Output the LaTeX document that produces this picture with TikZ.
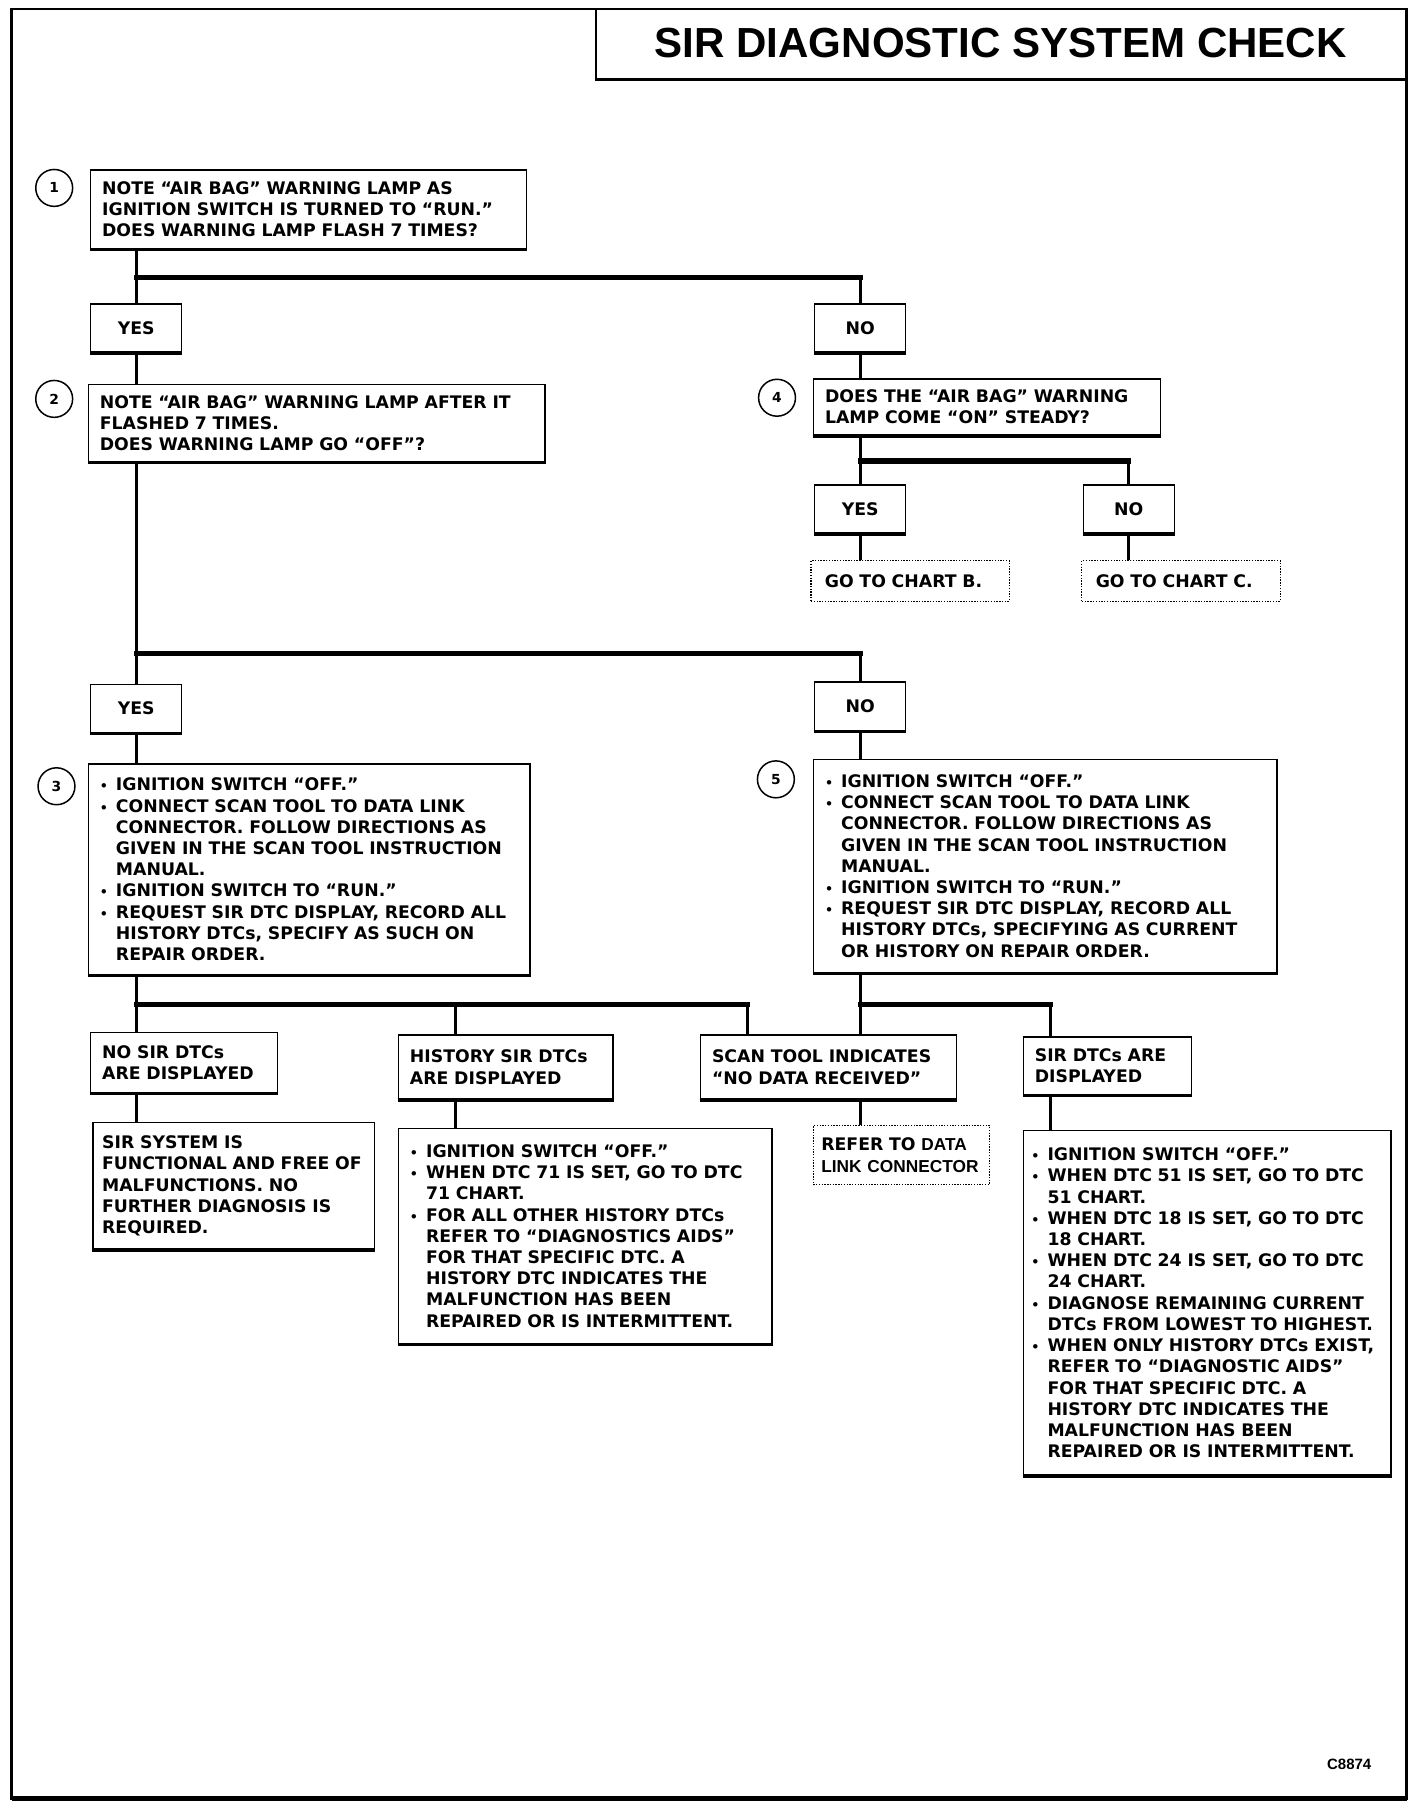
\documentclass[tikz,border=0pt]{standalone}
\usepackage{fontspec}
\setmainfont{DejaVu Sans}
\newfontfamily\headfont{Liberation Sans}
\usetikzlibrary{positioning}
\usetikzlibrary{calc}
\newcommand{\boxfont}{\fontsize{15}{18.4}\selectfont\bfseries}
\newcommand{\titlefont}{\headfont\fontsize{36.5}{40}\selectfont\bfseries}
\newcommand{\itm}{\makebox[14pt][l]{\fontsize{11}{11}\selectfont •}}
\newcommand{\ctn}{\hspace*{14pt}}
\tikzstyle{heavybase}=[append after command={(\tikzlastnode.south west) edge[line width=2.8pt] (\tikzlastnode.south east)}]
\tikzstyle{box}=[draw,line width=1.2pt,anchor=north west,align=left,inner xsep=10pt,inner ysep=0pt,font=\boxfont,heavybase]
\tikzstyle{answer}=[draw,line width=1.2pt,anchor=north west,minimum width=79pt,minimum height=42pt,inner sep=0pt,font=\boxfont,heavybase]
\tikzstyle{dotbox}=[draw,line width=0.9pt,dash pattern=on 1.2pt off 1.2pt,anchor=north west,align=left,inner xsep=12pt,inner ysep=0pt,font=\boxfont]
\tikzstyle{numcircle}=[circle,draw,line width=1.3pt,minimum size=32pt,inner sep=0pt,font=\fontsize{12}{12}\selectfont\bfseries]
\tikzstyle{link} = [draw,line width=2.6pt]
\tikzstyle{crossbar} = [draw,line width=4.6pt,line cap=rect]

\begin{document}
\begin{tikzpicture}[x=1pt,y=-1pt]
    \useasboundingbox (0,0) rectangle (1235,1570);

    % page frame and title
    \draw[line width=2pt] (10,8) rectangle (1220,1560);
    \draw[line width=4pt] (10,1560) -- (1220,1560);
    \draw[line width=2pt] (517,8) -- (517,69) -- (1220,69);
    \node[font=\titlefont] (title) at (868,37) {SIR DIAGNOSTIC SYSTEM CHECK};
    \node[anchor=east,font=\headfont\fontsize{13}{13}\selectfont\bfseries] (code) at (1193,1530) {C8874};

    % questions
    \node[box,minimum width=378pt,minimum height=68pt,text width=358pt] (q1) at (78,147)
        {NOTE “AIR BAG” WARNING LAMP AS\\IGNITION SWITCH IS TURNED TO “RUN.”\\DOES WARNING LAMP FLASH 7 TIMES?};
    \node[box,minimum width=396pt,minimum height=67pt,text width=376pt] (q2) at (76,333)
        {NOTE “AIR BAG” WARNING LAMP AFTER IT\\FLASHED 7 TIMES.\\DOES WARNING LAMP GO “OFF”?};
    \node[box,minimum width=301pt,minimum height=49pt,text width=281pt] (q4) at (705,328)
        {DOES THE “AIR BAG” WARNING\\LAMP COME “ON” STEADY?};
    \node[box,minimum width=383pt,minimum height=183pt,text width=363pt] (q3) at (76,662)
        {\itm IGNITION SWITCH “OFF.”\\\itm CONNECT SCAN TOOL TO DATA LINK\\\ctn CONNECTOR. FOLLOW DIRECTIONS AS\\\ctn GIVEN IN THE SCAN TOOL INSTRUCTION\\\ctn MANUAL.\\\itm IGNITION SWITCH TO “RUN.”\\\itm REQUEST SIR DTC DISPLAY, RECORD ALL\\\ctn HISTORY DTCs, SPECIFY AS SUCH ON\\\ctn REPAIR ORDER.};
    \node[box,minimum width=402pt,minimum height=185pt,text width=382pt] (q5) at (705,658)
        {\itm IGNITION SWITCH “OFF.”\\\itm CONNECT SCAN TOOL TO DATA LINK\\\ctn CONNECTOR. FOLLOW DIRECTIONS AS\\\ctn GIVEN IN THE SCAN TOOL INSTRUCTION\\\ctn MANUAL.\\\itm IGNITION SWITCH TO “RUN.”\\\itm REQUEST SIR DTC DISPLAY, RECORD ALL\\\ctn HISTORY DTCs, SPECIFYING AS CURRENT\\\ctn OR HISTORY ON REPAIR ORDER.};

    \foreach \pos/\name/\label in {{(47,163)/n1/1}, {(47,346)/n2/2}, {(674,345)/n4/4}, {(49,682)/n3/3}, {(673,676)/n5/5}}
        \node[numcircle] (\name) at \pos {\label};

    \foreach \pos/\name/\label in {{(78,263)/yes1/YES}, {(706,263)/no1/NO}, {(706,420)/yes2/YES}, {(939,420)/no2/NO}, {(78,593)/yes3/YES}, {(706,591)/no3/NO}}
        \node[answer] (\name) at \pos {\label};

    % chart references
    \node[dotbox,minimum width=172pt,minimum height=35pt,text width=148pt] (chartb) at (703,486) {GO TO CHART B.};
    \node[dotbox,minimum width=172pt,minimum height=35pt,text width=148pt] (chartc) at (938,486) {GO TO CHART C.};

    % results
    \node[box,minimum width=162pt,minimum height=52pt,text width=142pt] (nosir) at (78,895) {NO SIR DTCs\\ARE DISPLAYED};
    \node[box,minimum width=186pt,minimum height=56pt,text width=166pt] (hist) at (345,897) {HISTORY SIR DTCs\\ARE DISPLAYED};
    \node[box,minimum width=222pt,minimum height=56pt,text width=202pt] (scan) at (607,897) {SCAN TOOL INDICATES\\“NO DATA RECEIVED”};
    \node[box,minimum width=146pt,minimum height=50pt,text width=126pt] (sirdtc) at (887,899) {SIR DTCs ARE\\DISPLAYED};

    \node[box,inner xsep=8pt,minimum width=244pt,minimum height=110pt,text width=228pt] (sirok) at (80,973)
        {SIR SYSTEM IS\\FUNCTIONAL AND FREE OF\\MALFUNCTIONS. NO\\FURTHER DIAGNOSIS IS\\REQUIRED.};
    \node[box,minimum width=324pt,minimum height=187pt,text width=304pt] (histdo) at (345,978)
        {\itm IGNITION SWITCH “OFF.”\\\itm WHEN DTC 71 IS SET, GO TO DTC\\\ctn 71 CHART.\\\itm FOR ALL OTHER HISTORY DTCs\\\ctn REFER TO “DIAGNOSTICS AIDS”\\\ctn FOR THAT SPECIFIC DTC. A\\\ctn HISTORY DTC INDICATES THE\\\ctn MALFUNCTION HAS BEEN\\\ctn REPAIRED OR IS INTERMITTENT.};
    \node[dotbox,inner xsep=7pt,minimum width=153pt,minimum height=51pt,text width=139pt] (refer) at (705,976)
        {REFER TO {\headfont\bfseries DATA}\\{\headfont\bfseries LINK CONNECTOR}};
    \node[box,inner xsep=7pt,minimum width=319pt,minimum height=299pt,text width=305pt] (bigbox) at (887,980)
        {\itm IGNITION SWITCH “OFF.”\\\itm WHEN DTC 51 IS SET, GO TO DTC\\\ctn 51 CHART.\\\itm WHEN DTC 18 IS SET, GO TO DTC\\\ctn 18 CHART.\\\itm WHEN DTC 24 IS SET, GO TO DTC\\\ctn 24 CHART.\\\itm DIAGNOSE REMAINING CURRENT\\\ctn DTCs FROM LOWEST TO HIGHEST.\\\itm WHEN ONLY HISTORY DTCs EXIST,\\\ctn REFER TO “DIAGNOSTIC AIDS”\\\ctn FOR THAT SPECIFIC DTC. A\\\ctn HISTORY DTC INDICATES THE\\\ctn MALFUNCTION HAS BEEN\\\ctn REPAIRED OR IS INTERMITTENT.};

    % branch bars
    \coordinate (bar1) at (0,241);
    \coordinate (bar2) at (0,400);
    \coordinate (bar3) at (0,567);
    \coordinate (j1) at (395,871);
    \coordinate (j2) at (648,871);
    \coordinate (j3) at (911,871);

    \foreach \source/\dest in {yes1 |- bar1/no1 |- bar1, yes2 |- bar2/no2 |- bar2, yes3 |- bar3/no3 |- bar3, yes3 |- j1/j2, no3 |- j3/j3}
        \path[crossbar] (\source) -- (\dest);

    \foreach \source/\dest in {q1.south -| yes1/yes1.north, no1 |- bar1/no1.north, yes1.south/yes1.south |- q2.north, no1.south/no1.south |- q4.north,
        q4.south -| yes2/yes2.north, no2 |- bar2/no2.north, yes2.south/yes2.south |- chartb.north, no2.south/no2.south |- chartc.north,
        q2.south -| yes3/yes3.north, no3 |- bar3/no3.north, yes3.south/yes3.south |- q3.north, no3.south/no3.south |- q5.north,
        q3.south -| yes3/nosir.north -| yes3, j1/j1 |- hist.north, j2/j2 |- scan.north, q5.south -| no3/scan.north -| no3, j3/j3 |- sirdtc.north,
        nosir.south -| yes3/sirok.north -| yes3, hist.south -| j1/histdo.north -| j1, scan.south -| no3/refer.north -| no3, sirdtc.south -| j3/bigbox.north -| j3}
        \path[link] (\source) -- (\dest);

\end{tikzpicture}
\end{document}
